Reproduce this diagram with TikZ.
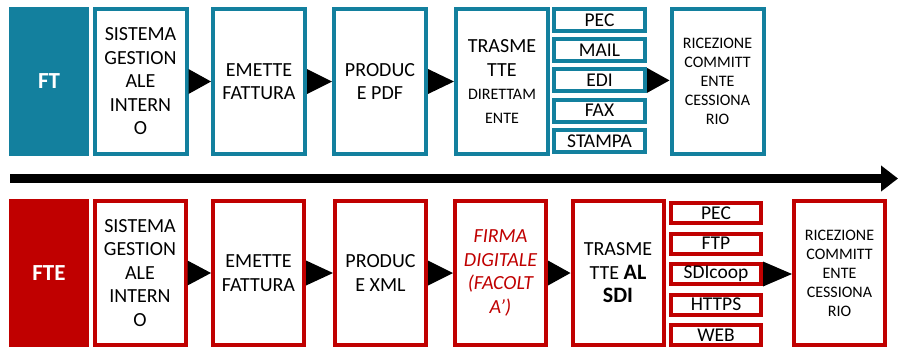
\documentclass[tikz,border=0pt]{standalone}
\usepackage{fontspec}
\setmainfont{Carlito}
\usetikzlibrary{arrows.meta,calc}
\definecolor{ftblue}{HTML}{13809E}
\definecolor{ftered}{HTML}{C00000}
\newcommand{\smalltxt}{\fontsize{16}{19}\selectfont}
\begin{document}
\begin{tikzpicture}[x=1pt,y=-1pt,
  head/.style={line width=4pt,minimum width=76pt,text=white,font=\fontsize{23}{25}\selectfont\bfseries},
  ftbox/.style={draw=ftblue,line width=4pt,fill=white,align=center,minimum width=92pt,minimum height=145pt,font=\fontsize{20}{23.5}\selectfont},
  ftebox/.style={draw=ftered,line width=4pt,fill=white,align=center,minimum width=91pt,minimum height=144pt,font=\fontsize{20}{23.5}\selectfont},
  ftchan/.style={draw=ftblue,line width=4pt,minimum width=91pt,minimum height=22pt,inner sep=0pt,font=\fontsize{19.5}{20}\selectfont},
  ftechan/.style={draw=ftered,line width=4pt,minimum width=90pt,minimum height=20pt,inner sep=0pt,font=\fontsize{19.5}{20}\selectfont},
  pointer/.style={fill=black},
  timeline/.style={line width=9pt,-{Triangle[length=17pt,width=25pt]}}]

\useasboundingbox (0,0) rectangle (899,349);

% FT row
\node[head,draw=ftblue,fill=ftblue,minimum height=145pt] (ft) at (49,81.5) {FT};
\node[ftbox] (ftsis) at (140.5,81.5) {SISTEMA\\GESTION\\ALE\\INTERN\\O};
\node[ftbox] (ftemi) at (259,81.5) {EMETTE\\FATTURA};
\node[ftbox] (ftpdf) at (380,81.5) {PRODUC\\E PDF};
\node[ftbox] (fttra) at (502,81.5) {TRASME\\TTE\\{\smalltxt DIRETTAM}\\{\smalltxt ENTE}};
\node[ftchan] (ftpec) at (599.5,20) {PEC};
\node[ftchan] (ftmail) at (599.5,50.2) {MAIL};
\node[ftchan] (ftedi) at (599.5,80.4) {EDI};
\node[ftchan] (ftfax) at (599.5,110.6) {FAX};
\node[ftchan] (ftstampa) at (599.5,140.8) {STAMPA};
\node[ftbox,font=\smalltxt] (ftric) at (717.5,81.5) {RICEZIONE\\COMMITT\\ENTE\\CESSIONA\\RIO};

\fill[pointer] ($(ftsis.east)+(0,-12.5)$) -- (ftsis.east -| ftemi.west) -- ($(ftsis.east)+(0,12.5)$) -- cycle;
\fill[pointer] ($(ftemi.east)+(0,-12.5)$) -- (ftemi.east -| ftpdf.west) -- ($(ftemi.east)+(0,12.5)$) -- cycle;
\fill[pointer] ($(ftpdf.east)+(0,-12.5)$) -- (ftpdf.east -| fttra.west) -- ($(ftpdf.east)+(0,12.5)$) -- cycle;
\fill[pointer] ($(ftedi.east)+(0,-12.5)$) -- (ftedi.east -| ftric.west) -- ($(ftedi.east)+(0,12.5)$) -- cycle;

% time axis
\coordinate (tlstart) at (10,178.5);
\coordinate (tlend) at (898,178.5);
\draw[timeline] (tlstart) -- (tlend);

% FTE row
\node[head,draw=ftered,fill=ftered,minimum height=144pt] (fte) at (49,273) {FTE};
\node[ftebox] (ftesis) at (140,273) {SISTEMA\\GESTION\\ALE\\INTERN\\O};
\node[ftebox] (fteemi) at (258.5,273) {EMETTE\\FATTURA};
\node[ftebox] (ftexml) at (380.5,273) {PRODUC\\E XML};
\node[ftebox,text=ftered,font=\fontsize{20}{23.5}\selectfont\itshape] (ftefir) at (500.5,273) {FIRMA\\DIGITALE\\(FACOLT\\A’)};
\node[ftebox] (ftetra) at (618,273) {TRASME\\TTE {\fontsize{22}{24}\selectfont\bfseries AL}\\{\fontsize{22}{24}\selectfont\bfseries SDI}};
\node[ftechan] (ftepec) at (716,213) {PEC};
\node[ftechan] (fteftp) at (716,243.5) {FTP};
\node[ftechan] (ftesdi) at (716,274) {SDIcoop};
\node[ftechan] (ftehttps) at (716,304.5) {HTTPS};
\node[ftechan] (fteweb) at (716,335) {WEB};
\node[ftebox,font=\smalltxt] (fteric) at (839.5,273) {RICEZIONE\\COMMITT\\ENTE\\CESSIONA\\RIO};

\fill[pointer] ($(ftesis.east)+(0,-12.5)$) -- (ftesis.east -| fteemi.west) -- ($(ftesis.east)+(0,12.5)$) -- cycle;
\fill[pointer] ($(fteemi.east)+(0,-12.5)$) -- (fteemi.east -| ftexml.west) -- ($(fteemi.east)+(0,12.5)$) -- cycle;
\fill[pointer] ($(ftexml.east)+(0,-12.5)$) -- (ftexml.east -| ftefir.west) -- ($(ftexml.east)+(0,12.5)$) -- cycle;
\fill[pointer] ($(ftefir.east)+(0,-12.5)$) -- (ftefir.east -| ftetra.west) -- ($(ftefir.east)+(0,12.5)$) -- cycle;
\fill[pointer] ($(ftesdi.east)+(0,-12.5)$) -- (ftesdi.east -| fteric.west) -- ($(ftesdi.east)+(0,12.5)$) -- cycle;
\end{tikzpicture}
\end{document}
